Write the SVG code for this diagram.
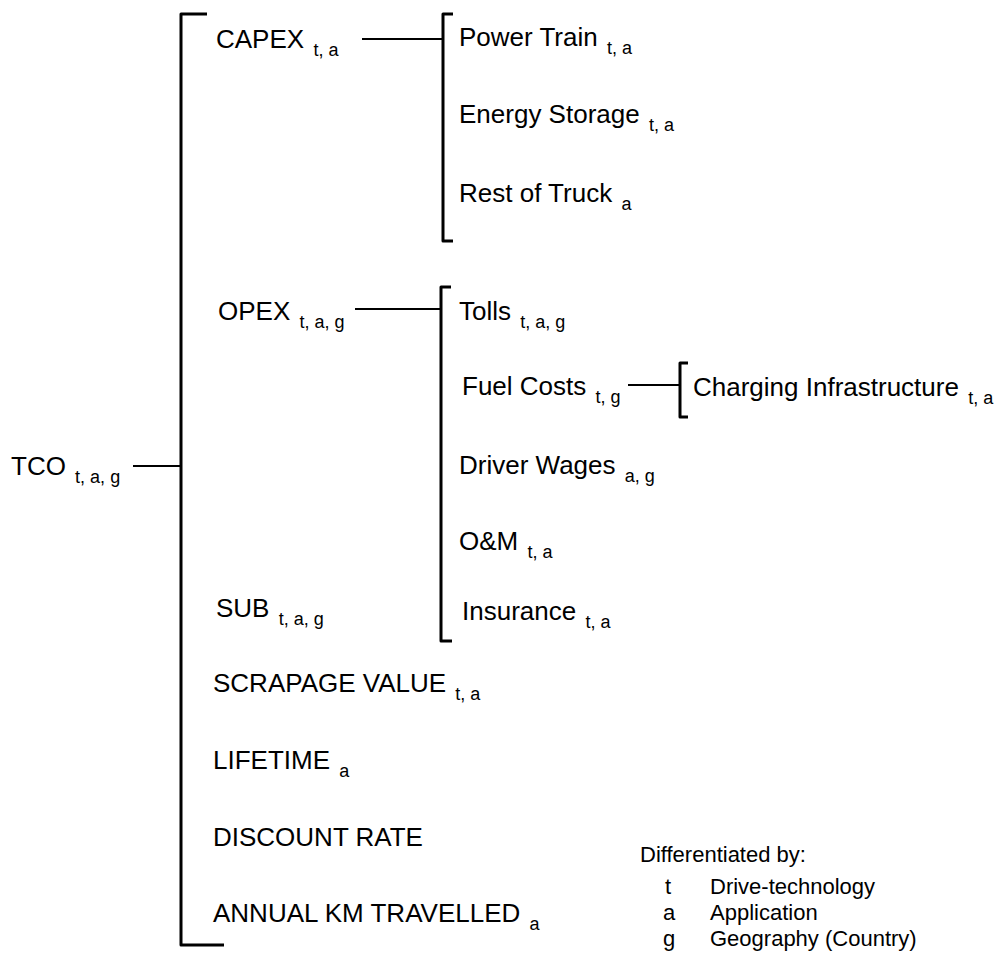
<svg xmlns="http://www.w3.org/2000/svg" width="996" height="956" viewBox="0 0 996 956">
<style>
text{font-family:"Liberation Sans",Arial,sans-serif;fill:#000;}
.m{font-size:26px;}
.s{font-size:18px;}
.l{font-size:22px;}
.br{fill:none;stroke:#000;stroke-width:3;stroke-linejoin:round;}
.cn{fill:none;stroke:#000;stroke-width:2;}
</style>
<rect width="996" height="956" fill="#fff"/>
<g id="connectors">
<line class="cn" x1="133" y1="466" x2="181" y2="466"/>
<line class="cn" x1="362" y1="39" x2="443" y2="39"/>
<line class="cn" x1="355" y1="309" x2="441" y2="309"/>
<line class="cn" x1="628" y1="385" x2="680" y2="385"/>
<path class="br" d="M207,14 H181 V945 H224"/>
<path class="br" d="M453,14 H443 V241 H453"/>
<path class="br" d="M451,287 H441 V641 H452"/>
<path class="br" d="M688,363 H680 V417 H688"/>
</g>
<g id="tco"><text class="m" x="11" y="475">TCO <tspan class="s" dx="2" dy="8">t, a, g</tspan></text></g>
<g id="capex"><text class="m" x="216" y="48">CAPEX <tspan class="s" dx="2" dy="8">t, a</tspan></text></g>
<g id="powertrain"><text class="m" x="459" y="46">Power Train <tspan class="s" dx="2" dy="8">t, a</tspan></text></g>
<g id="energystorage"><text class="m" x="459" y="123">Energy Storage <tspan class="s" dx="2" dy="8">t, a</tspan></text></g>
<g id="restoftruck"><text class="m" x="459" y="202">Rest of Truck <tspan class="s" dx="2" dy="8">a</tspan></text></g>
<g id="opex"><text class="m" x="218" y="320">OPEX <tspan class="s" dx="2" dy="8">t, a, g</tspan></text></g>
<g id="tolls"><text class="m" x="459" y="320">Tolls <tspan class="s" dx="2" dy="8">t, a, g</tspan></text></g>
<g id="fuelcosts"><text class="m" x="462" y="395">Fuel Costs <tspan class="s" dx="2" dy="8">t, g</tspan></text></g>
<g id="charging"><text class="m" x="693" y="396">Charging Infrastructure <tspan class="s" dx="2" dy="8">t, a</tspan></text></g>
<g id="driverwages"><text class="m" x="459" y="474">Driver Wages <tspan class="s" dx="2" dy="8">a, g</tspan></text></g>
<g id="om"><text class="m" x="459" y="550">O&amp;M <tspan class="s" dx="2" dy="8">t, a</tspan></text></g>
<g id="insurance"><text class="m" x="462" y="620">Insurance <tspan class="s" dx="2" dy="8">t, a</tspan></text></g>
<g id="sub"><text class="m" x="216" y="617">SUB <tspan class="s" dx="2" dy="8">t, a, g</tspan></text></g>
<g id="scrapage"><text class="m" x="213" y="692">SCRAPAGE VALUE <tspan class="s" dx="2" dy="8">t, a</tspan></text></g>
<g id="lifetime"><text class="m" x="213" y="769">LIFETIME <tspan class="s" dx="2" dy="8">a</tspan></text></g>
<g id="discount"><text class="m" x="213" y="846">DISCOUNT RATE</text></g>
<g id="annualkm"><text class="m" x="213" y="922">ANNUAL KM TRAVELLED <tspan class="s" dx="2" dy="8">a</tspan></text></g>
<g id="legend">
<text class="l" x="640" y="862">Differentiated by:</text>
<text class="l" x="665" y="894">t</text><text class="l" x="710" y="894">Drive-technology</text>
<text class="l" x="663" y="920">a</text><text class="l" x="710" y="920">Application</text>
<text class="l" x="663" y="946">g</text><text class="l" x="710" y="946">Geography (Country)</text>
</g>
</svg>
